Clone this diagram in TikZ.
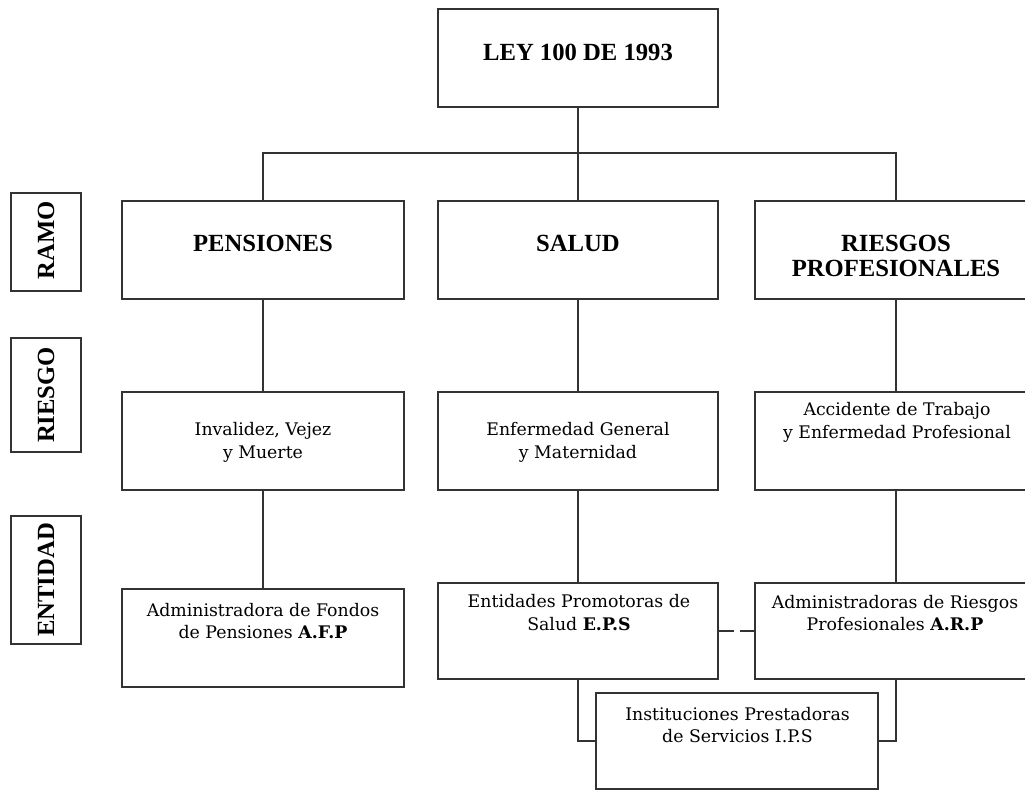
\documentclass[tikz,border=0pt]{standalone}
\usepackage{fontspec}
\setmainfont{DejaVu Serif}
\newfontfamily\tnr{Liberation Serif}
\colorlet{gris}{black!80}
\begin{document}
\begin{tikzpicture}[x=0.75pt,y=-0.75pt,line width=1.5pt,
caja/.style={draw=gris,minimum width=211.5pt,minimum height=73.5pt,inner sep=0pt},
eti/.style={draw=gris,minimum width=52.5pt,inner sep=0pt},
tit/.style={font=\tnr\bfseries\fontsize{18.5}{18.75}\selectfont,align=center,inner sep=0pt},
txt/.style={font=\fontsize{13}{16.9}\selectfont,align=center,inner sep=0pt}]
\clip(0,0)rectangle(1025,792);
\fill[white](0,0)rectangle(1025,792);
\node[caja,minimum width=210pt](ley)at(578,58){};
\node[tit](ley-t)at(578,52){LEY 100 DE 1993};
\coordinate(bus)at(578,153);
\node[eti,minimum height=73.5pt](ramo)at(46,242){};
\node[tit,rotate=90](ramo-t)at(46,240){RAMO};
\node[eti,minimum height=85.5pt](riesgo)at(46,395){};
\node[tit,rotate=90](riesgo-t)at(46,395){RIESGO};
\node[eti,minimum height=96pt](entidad)at(46,580){};
\node[tit,rotate=90](entidad-t)at(46,580){ENTIDAD};
\node[caja](pen)at(263,250){};
\node[tit](pen-t)at(263,243){PENSIONES};
\node[caja,minimum width=210pt](sal)at(578,250){};
\node[tit](sal-t)at(578,243){SALUD};
\node[caja](rie)at(896,250){};
\node[tit](rie-t)at(896,255.5){RIESGOS\\PROFESIONALES};
\node[caja](ivm)at(263,441){};
\node[txt](ivm-t)at(263,442.5){Invalidez, Vejez\\y Muerte};
\node[caja,minimum width=210pt](egm)at(578,441){};
\node[txt](egm-t)at(578,442.5){Enfermedad General\\y Maternidad};
\node[caja](atep)at(896,441){};
\node[txt](atep-t)at(897,422.5){Accidente de Trabajo\\y Enfermedad Profesional};
\node[caja](afp)at(263,638){};
\node[txt](afp-t)at(263,621){Administradora de Fondos\\de Pensiones \textbf{A.F.P}};
\node[caja,minimum width=210pt,minimum height=72pt](eps)at(578,631){};
\node[txt](eps-t)at(579,612.5){Entidades Promotoras de\\Salud \textbf{E.P.S}};
\node[caja,minimum height=72pt](arp)at(896,631){};
\node[txt](arp-t)at(895,613){Administradoras de Riesgos\\Profesionales \textbf{A.R.P}};
\node[caja,minimum height=72pt](ips)at(737,741){};
\node[txt](ips-t)at(737.5,725){Instituciones Prestadoras\\de Servicios I.P.S};
\draw[gris](sal)--(ley);
\draw[gris](pen)--(pen|-bus)--(rie|-bus)--(rie);
\draw[gris](pen)--(ivm);
\draw[gris](sal)--(egm);
\draw[gris](rie)--(atep);
\draw[gris](ivm)--(afp);
\draw[gris](egm)--(eps);
\draw[gris](atep)--(arp);
\draw[gris,dash pattern=on 11pt off 5pt](eps)--(arp);
\draw[gris](eps)|-(ips);
\draw[gris](arp)|-(ips);
\end{tikzpicture}
\end{document}
